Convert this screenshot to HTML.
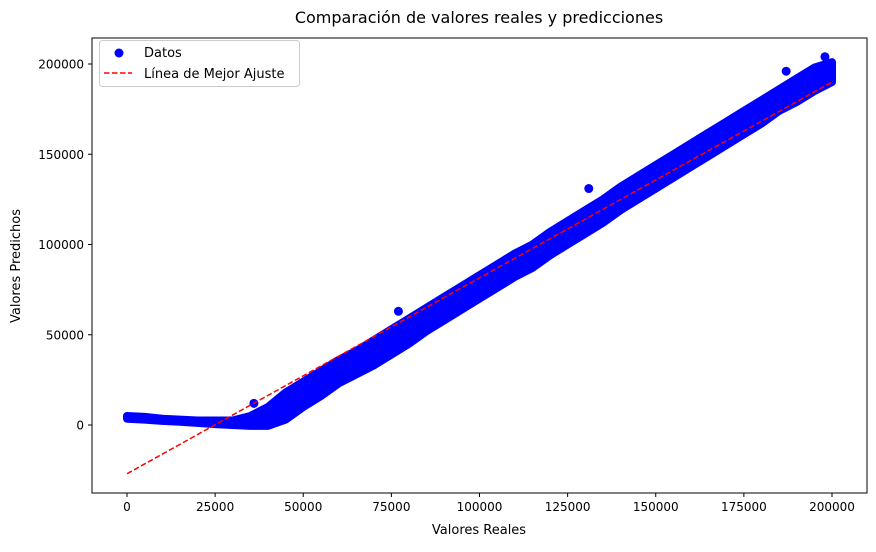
<!DOCTYPE html>
<html><head><meta charset="utf-8"><style>
body{margin:0;background:#fff;font-family:"DejaVu Sans","Liberation Sans",sans-serif;}
svg text{font-family:"DejaVu Sans","Liberation Sans",sans-serif;}
</style></head><body>
<svg id="chart" width="876" height="548">
<text x="479" y="23" font-size="16" text-anchor="middle">Comparación de valores reales y predicciones</text>
<g id="plot"></g>
<rect x="92" y="38" width="775" height="455" fill="none" stroke="#000" stroke-width="1"/>
<g id="axes"></g>
<text x="479" y="534" font-size="13" text-anchor="middle">Valores Reales</text>
<text x="20" y="266" font-size="13" text-anchor="middle" transform="rotate(-90 20 266)">Valores Predichos</text>
<g>
<rect x="99.5" y="40.5" width="200" height="46" rx="3" fill="#fff" fill-opacity="0.8" stroke="#ccc"/>
<circle cx="119" cy="53" r="4.5" fill="#0000ff"/>
<text x="144" y="57" font-size="13">Datos</text>
<line x1="104" y1="73" x2="132" y2="73" stroke="#ff0000" stroke-width="1.5" stroke-dasharray="5.5,2.5"/>
<text x="144" y="78" font-size="13">Línea de Mejor Ajuste</text>
</g>
</svg>
<script>
const xVals=[0,5,10,15,20,25,30,35,40,45,50,55,60,65,70,75,80,85,90,95,100,105,110,115,120,125,130,135,140,145,150,155,160,165,170,175,180,185,190,195,200];
const yLow=[3.5,3,2.3,1.8,1.2,0.5,0,-0.5,-0.5,3,10,16,23,28,33,39,45,52,58,64,70,76,82,87,94,100,106,112,119,125,131,137,143,149,155,161,167,174,179,185,190];
const yHigh=[5,4.5,3.5,3,2.5,2.5,2.5,5,10,18,24,30,36,41,47,53,59,65,71,77,83,89,95,100,107,113,119,125,132,138,144,150,156,162,168,174,180,186,192,198,201];
const outX=[36,77,131,187,198];
const outY=[12,63,131,196,204];
const fitX=[0,200];
const fitY=[-27,190];
const xTicks=[0,25000,50000,75000,100000,125000,150000,175000,200000];
const yTicks=[0,50000,100000,150000,200000];
const sx=v=>127+v*705/200000;
const sy=v=>425-v*361/200000;
const NS="http://www.w3.org/2000/svg";
const plot=document.getElementById('plot'),axes=document.getElementById('axes');
function mk(t,a,p){const e=document.createElementNS(NS,t);for(const k in a)e.setAttribute(k,a[k]);p.appendChild(e);return e;}
let pts=xVals.map((x,i)=>sx(x*1000)+','+sy(yHigh[i]*1000)).concat(xVals.map((x,i)=>sx(x*1000)+','+sy(yLow[i]*1000)).reverse());
const band=mk('polygon',{points:pts.join(' '),fill:'#0000ff',stroke:'#0000ff','stroke-width':8,'stroke-linejoin':'round'},plot);


outX.forEach((x,i)=>{const c=mk('circle',{cx:sx(x*1000),cy:sy(outY[i]*1000),r:4.5,fill:'#0000ff'},plot);

});
const fl=mk('line',{x1:sx(fitX[0]*1000),y1:sy(fitY[0]*1000),x2:sx(fitX[1]*1000),y2:sy(fitY[1]*1000),stroke:'#ff0000','stroke-width':1.5,'stroke-dasharray':'5.5,2.5'},plot);


xTicks.forEach(v=>{const x=sx(v);mk('line',{x1:x,y1:493,x2:x,y2:497,stroke:'#000'},axes);
const t=mk('text',{x:x,y:511,'font-size':12,'text-anchor':'middle'},axes);t.textContent=v;

});
yTicks.forEach(v=>{const y=sy(v);mk('line',{x1:88,y1:y,x2:92,y2:y,stroke:'#000'},axes);
const t=mk('text',{x:84,y:y+4.5,'font-size':12,'text-anchor':'end'},axes);t.textContent=v;

});
</script>
</body></html>
